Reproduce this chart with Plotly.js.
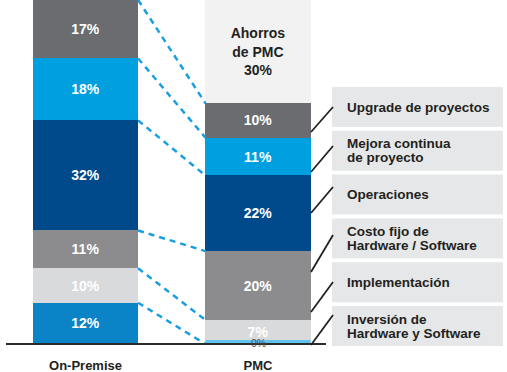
<!DOCTYPE html>
<html><head><meta charset="utf-8">
<script src="https://cdn.plot.ly/plotly-3.0.1.min.js"></script>
<style>html,body{margin:0;padding:0;background:#fff;}#chart{width:507px;height:372px;}</style>
</head><body><div id="chart"></div>
<script>
// ---- data ----
const categories = ['On-Premise', 'PMC'];
const segmentNames = [
  'Inversión de<br>Hardware y Software',
  'Implementación',
  'Costo fijo de<br>Hardware / Software',
  'Operaciones',
  'Mejora continua<br>de proyecto',
  'Upgrade de proyectos'
];
const onPremise = [12, 10, 11, 32, 18, 17];
const pmc = [0, 7, 20, 22, 11, 10];
const savingsLabel = 'Ahorros<br>de PMC';
const savingsValue = 30;

// ---- style ----
const W = 507, PLOT_H = 344;
const FONT = 'Liberation Sans, Arial, sans-serif';
const fillOP = ['#0a84c6', '#d9dadb', '#8c8c8e', '#004a8c', '#009fe0', '#6b6c6f'];
const fillPMC = ['#5ec4ef', '#d9dadb', '#8c8c8e', '#004a8c', '#009fe0', '#6b6c6f'];
const barW = 0.61;
const pxPerUnit = 172.5;
const firstCenterPx = 85.5;
const xs = categories.map((_, i) => i);
const px2paperX = p => p / W;
const px2paperY = p => (PLOT_H - p) / PLOT_H;

const traces = [];
segmentNames.forEach((name, i) => {
  const vals = [onPremise[i], pmc[i]];
  const cols = [fillOP[i], fillPMC[i]];
  traces.push({
    type: 'bar', x: xs, y: vals, width: barW, name: name,
    marker: {color: cols, line: {width: 0}},
    text: vals.map(v => v > 0 ? v + '%' : ''),
    textposition: 'inside', insidetextanchor: 'middle', textangle: 0,
    textfont: {family: FONT, size: 14, color: '#ffffff', weight: 'bold'},
    hoverinfo: 'skip', showlegend: false
  });
});
traces.push({
  type: 'bar', x: xs, y: [null, savingsValue], width: barW, name: 'Ahorros',
  marker: {color: '#f2f2f2', line: {width: 0}},
  text: ['', savingsLabel + '<br>' + savingsValue + '%'],
  textposition: 'inside', insidetextanchor: 'middle', textangle: 0,
  textfont: {family: FONT, size: 14, color: '#231f20', weight: 'bold'},
  hoverinfo: 'skip', showlegend: false
});

// cumulative tops; zero-value segments shown as a thin sliver + label
const annotations = [];
let baseOP = 0, basePMC = 0;
const cumOP = [], cumPMC = [];
onPremise.forEach((v, i) => {
  const pairs = [[xs[0], v, baseOP, fillOP[i]], [xs[1], pmc[i], basePMC, fillPMC[i]]];
  pairs.forEach(p => {
    if (p[1] === 0) {
      traces.push({
        type: 'scatter', mode: 'lines', x: [p[0] - barW / 2, p[0] + barW / 2], y: [p[2], p[2]],
        line: {color: p[3], width: 8}, hoverinfo: 'skip', showlegend: false, cliponaxis: true
      });
      annotations.push({
        xref: 'x', yref: 'y', x: p[0], y: p[2], yanchor: 'middle', yshift: 1, showarrow: false,
        text: p[1] + '%', borderpad: 0, font: {family: FONT, size: 10.5, color: '#4d4d4d'}
      });
    }
  });
  baseOP += v; basePMC += pmc[i];
  cumOP.push(baseOP); cumPMC.push(basePMC);
});

// dashed connectors between bars
cumOP.forEach((v, i) => {
  traces.push({
    type: 'scatter', mode: 'lines', x: [xs[0] + barW / 2, xs[1] - barW / 2], y: [cumOP[i], cumPMC[i]],
    line: {color: '#1a9ee0', width: 2.5, dash: '6px,5px'}, hoverinfo: 'skip', showlegend: false, cliponaxis: false
  });
});

// ---- right-hand label boxes ----
const shapes = [{
  type: 'line', xref: 'paper', yref: 'paper', x0: px2paperX(6), x1: px2paperX(326), y0: 0, y1: 0,
  line: {color: '#2b2b2b', width: 2}, layer: 'above'
}];
const boxTop0 = 87, boxStep = 43.8, boxH = 40;
const connectors = [[132, 107], [172, 146], [213, 187], [272, 235], [312, 282], [345, 315]];
const labelsTopDown = segmentNames.slice().reverse();
labelsTopDown.forEach((lab, k) => {
  const top = boxTop0 + k * boxStep;
  const bottom = top + boxH;
  const mid = (top + bottom) / 2;
  shapes.push({
    type: 'rect', xref: 'paper', yref: 'paper', x0: px2paperX(332), x1: px2paperX(503),
    y0: px2paperY(bottom), y1: px2paperY(top), fillcolor: '#e6e7e8', line: {width: 0}, layer: 'below'
  });
  const lines = lab.split('<br>');
  const lh = 14;
  lines.forEach((ln, j) => {
    const cy = mid + (j - (lines.length - 1) / 2) * lh;
    annotations.push({
      xref: 'paper', yref: 'paper', x: px2paperX(346), y: px2paperY(cy), xanchor: 'left', yanchor: 'middle',
      text: ln, showarrow: false, borderpad: 0, font: {family: FONT, size: 13.5, color: '#231f20', weight: 'bold'}
    });
  });
  const c = connectors[k];
  shapes.push({
    type: 'line', xref: 'paper', yref: 'paper', x0: px2paperX(311), y0: px2paperY(c[0]),
    x1: px2paperX(333), y1: px2paperY(c[1]), line: {color: '#222222', width: 1.8}, layer: 'above'
  });
});

const layout = {
  width: 507, height: 372,
  margin: {l: 0, r: 0, t: 0, b: 28, pad: 0},
  paper_bgcolor: '#ffffff', plot_bgcolor: '#ffffff',
  barmode: 'stack', bargap: 0, showlegend: false,
  xaxis: {
    range: [-firstCenterPx / pxPerUnit, (W - firstCenterPx) / pxPerUnit],
    tickmode: 'array', tickvals: xs, ticktext: categories,
    showgrid: false, zeroline: false, showline: false, ticks: '', ticklabelstandoff: 12,
    tickfont: {family: FONT, size: 13, color: '#231f20', weight: 'bold'}, fixedrange: true
  },
  yaxis: {range: [0, 100], visible: false, fixedrange: true},
  shapes: shapes,
  annotations: annotations
};

Plotly.newPlot('chart', traces, layout, {displayModeBar: false, staticPlot: true});
</script>
</body></html>
